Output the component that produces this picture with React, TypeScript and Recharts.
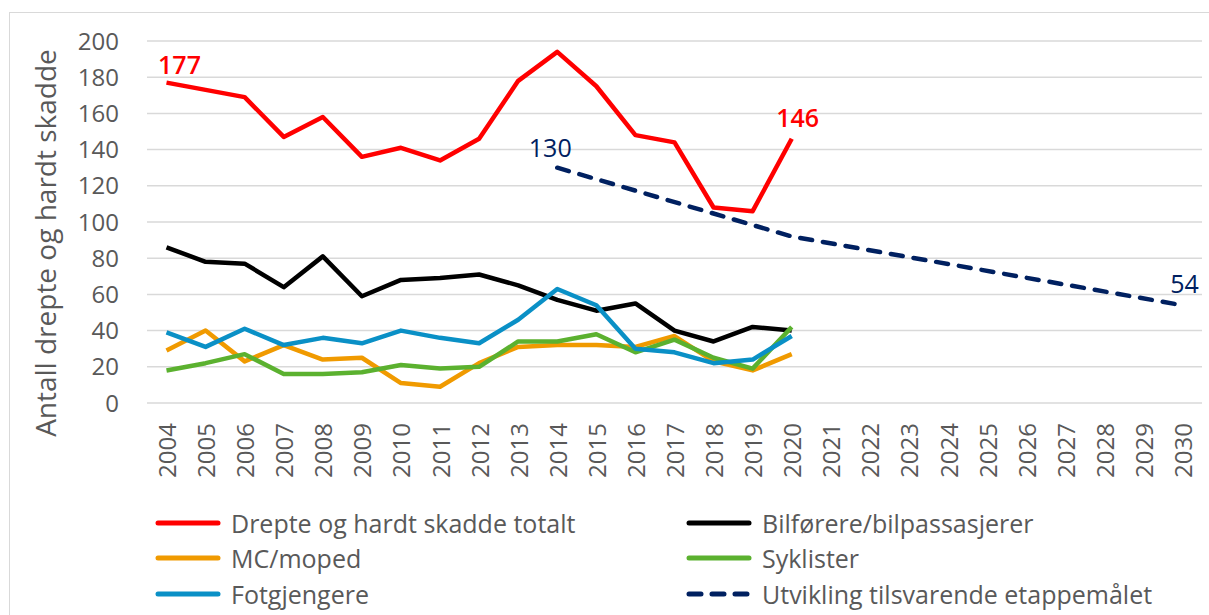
import { CartesianGrid, LabelList, Line, LineChart, XAxis, YAxis } from "recharts";

const years = [
  "2004", "2005", "2006", "2007", "2008", "2009", "2010", "2011", "2012",
  "2013", "2014", "2015", "2016", "2017", "2018", "2019", "2020", "2021",
  "2022", "2023", "2024", "2025", "2026", "2027", "2028", "2029", "2030",
];

// observed values 2004-2020
const totalt = [177, 173, 169, 147, 158, 136, 141, 134, 146, 178, 194, 175, 148, 144, 108, 106, 146];
const bilforere = [86, 78, 77, 64, 81, 59, 68, 69, 71, 65, 57, 51, 55, 40, 34, 42, 40];
const mcMoped = [29, 40, 23, 32, 24, 25, 11, 9, 22, 31, 32, 32, 31, 37, 23, 18, 27];
const syklister = [18, 22, 27, 16, 16, 17, 21, 19, 20, 34, 34, 38, 28, 35, 25, 19, 42];
const fotgjengere = [39, 31, 41, 32, 36, 33, 40, 36, 33, 46, 63, 54, 30, 28, 22, 24, 37];

// target path: read at the points where the dashed line bends
const etappemal: Record<string, number> = { "2014": 130, "2020": 92, "2030": 54 };

const yTicks = [0, 20, 40, 60, 80, 100, 120, 140, 160, 180, 200];

const series = [
  { key: "totalt", label: "Drepte og hardt skadde totalt", color: "#FF0000", dashed: false },
  { key: "bilforere", label: "Bilførere/bilpassasjerer", color: "#000000", dashed: false },
  { key: "mcMoped", label: "MC/moped", color: "#F09A00", dashed: false },
  { key: "syklister", label: "Syklister", color: "#5BB12F", dashed: false },
  { key: "fotgjengere", label: "Fotgjengere", color: "#0A90C6", dashed: false },
  { key: "etappemal", label: "Utvikling tilsvarende etappemålet", color: "#002060", dashed: true },
];

const rows = years.map((year, i) => ({
  year,
  totalt: totalt[i] ?? null,
  bilforere: bilforere[i] ?? null,
  mcMoped: mcMoped[i] ?? null,
  syklister: syklister[i] ?? null,
  fotgjengere: fotgjengere[i] ?? null,
  etappemal: etappemal[year] ?? null,
}));

const FONT = "'Open Sans', 'Noto Sans', sans-serif";
const TEXT = "#595959";
const LINE_W = 4.5;

function YearTick({ x, y, payload }: any) {
  return (
    <text
      transform={`translate(${x}, ${y}) rotate(-90)`}
      textAnchor="end"
      dominantBaseline="central"
      fill={TEXT}
      fontSize={24}
      fontFamily={FONT}
    >
      {payload.value}
    </text>
  );
}

function pointLabel(color: string, weight: number, offsets: Record<number, [number, number]>) {
  return function PointLabel(props: any) {
    const { x, y, value, index } = props;
    const off = offsets[index];
    if (!off || value == null) return null;
    return (
      <text
        x={x + off[0]}
        y={y + off[1]}
        textAnchor="middle"
        fill={color}
        fontSize={25}
        fontWeight={weight}
        fontFamily={FONT}
      >
        {value}
      </text>
    );
  };
}

function LegendIcon({ color, dashed }: { color: string; dashed: boolean }) {
  return (
    <svg width={66} height={8} style={{ marginRight: 10, flexShrink: 0 }}>
      <line
        x1={3}
        x2={63}
        y1={4}
        y2={4}
        stroke={color}
        strokeWidth={5}
        strokeLinecap="round"
        strokeDasharray={dashed ? "12 11" : undefined}
      />
    </svg>
  );
}

export default function App() {
  return (
    <div style={{ position: "absolute", left: 0, top: 0, width: 1209, height: 615, background: "#fff", overflow: "hidden" }}>
      <div
        style={{
          position: "absolute",
          left: 9,
          top: 12,
          width: 1200,
          height: 603,
          borderTop: "1.5px solid #d9d9d9",
          borderLeft: "1.5px solid #d9d9d9",
        }}
      />
      <LineChart
        width={1209}
        height={615}
        data={rows}
        margin={{ top: 41, right: 7, bottom: 132, left: 87 }}
        style={{ position: "absolute", left: 0, top: 0 }}
      >
        <CartesianGrid vertical={false} stroke="#d9d9d9" strokeWidth={1.5} />
        <XAxis
          dataKey="year"
          interval={0}
          axisLine={false}
          tickLine={false}
          tickSize={0}
          tickMargin={20}
          height={80}
          padding={{ left: 19.5, right: 19.5 }}
          tick={<YearTick />}
        />
        <YAxis
          domain={[0, 200]}
          ticks={yTicks}
          interval={0}
          axisLine={false}
          tickLine={false}
          tickSize={0}
          tickMargin={28}
          width={60}
          tick={{ fill: TEXT, fontSize: 24, fontFamily: FONT }}
        />
        <Line dataKey="bilforere" stroke="#000000" strokeWidth={LINE_W} dot={false} isAnimationActive={false} strokeLinejoin="round" />
        <Line dataKey="mcMoped" stroke="#F09A00" strokeWidth={LINE_W} dot={false} isAnimationActive={false} strokeLinejoin="round" />
        <Line dataKey="syklister" stroke="#5BB12F" strokeWidth={LINE_W} dot={false} isAnimationActive={false} strokeLinejoin="round" />
        <Line dataKey="fotgjengere" stroke="#0A90C6" strokeWidth={LINE_W} dot={false} isAnimationActive={false} strokeLinejoin="round" />
        <Line
          dataKey="etappemal"
          stroke="#002060"
          strokeWidth={LINE_W}
          strokeDasharray="12 11"
          strokeLinecap="round"
          connectNulls
          dot={false}
          isAnimationActive={false}
        >
          <LabelList dataKey="etappemal" content={pointLabel("#002060", 500, { 10: [-7, -11], 26: [2, -12] })} />
        </Line>
        <Line dataKey="totalt" stroke="#FF0000" strokeWidth={LINE_W} dot={false} isAnimationActive={false} strokeLinejoin="round">
          <LabelList dataKey="totalt" content={pointLabel("#FF0000", 600, { 0: [13, -9], 16: [6, -12] })} />
        </Line>
        <text
          transform="translate(45, 243) rotate(-90)"
          textAnchor="middle"
          dominantBaseline="central"
          fill={TEXT}
          fontSize={28}
          fontFamily={FONT}
        >
          Antall drepte og hardt skadde
        </text>
      </LineChart>
      <div
        style={{
          position: "absolute",
          left: 155,
          top: 505,
          display: "grid",
          gridTemplateColumns: "531px 460px",
          gridAutoRows: "35.5px",
          fontFamily: FONT,
          fontSize: 25,
          color: TEXT,
        }}
      >
        {series.map((s) => (
          <div key={s.key} style={{ display: "flex", alignItems: "center", whiteSpace: "nowrap" }}>
            <LegendIcon color={s.color} dashed={s.dashed} />
            {s.label}
          </div>
        ))}
      </div>
    </div>
  );
}
